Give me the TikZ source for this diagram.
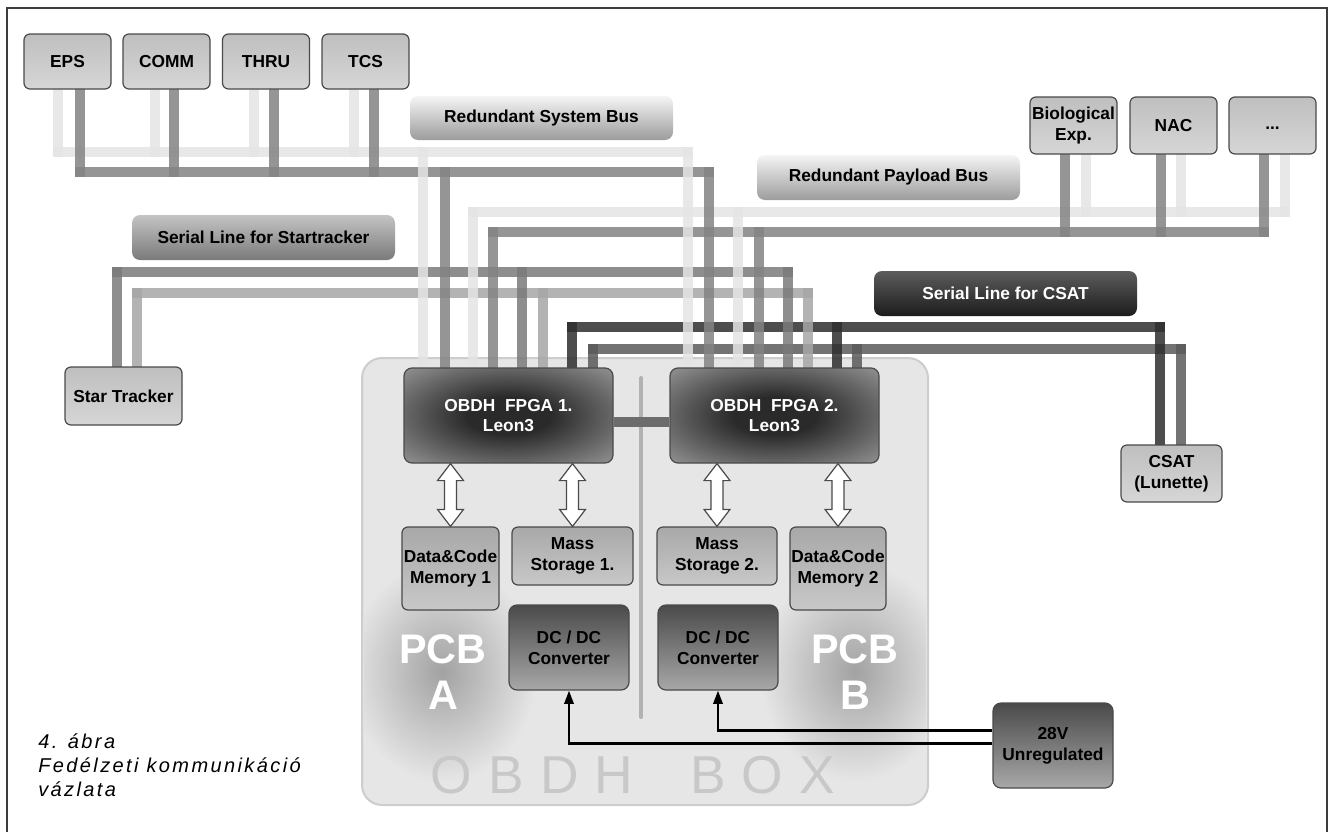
\documentclass[tikz,border=0pt]{standalone}
\usepackage{fontspec}
\setmainfont{Liberation Sans}
\newfontfamily\capfont[LetterSpace=12]{Liberation Sans}
\usetikzlibrary{calc,arrows.meta}
\definecolor{busL}{HTML}{E4E4E4}
\definecolor{busD}{HTML}{838383}
\definecolor{stD}{HTML}{7A7A7A}
\definecolor{stL}{HTML}{A6A6A6}
\definecolor{csK}{HTML}{2E2E2E}
\definecolor{csM}{HTML}{5A5A5A}
\definecolor{boxT}{HTML}{BFBFBF}
\definecolor{boxB}{HTML}{D6D6D6}
\definecolor{boxE}{HTML}{4A4A4A}
\definecolor{memT}{HTML}{A8A8A8}
\definecolor{memB}{HTML}{C8C8C8}
\definecolor{lblT}{HTML}{F5F5F5}
\definecolor{lblB}{HTML}{9C9C9C}
\definecolor{stlT}{HTML}{C4C4C4}
\definecolor{stlB}{HTML}{7A7A7A}
\definecolor{cslT}{HTML}{5C5C5C}
\definecolor{cslB}{HTML}{1C1C1C}
\definecolor{dcT}{HTML}{4A4A4A}
\definecolor{dcB}{HTML}{A8A8A8}
\definecolor{fpIn}{HTML}{2A2A2A}
\definecolor{fpOut}{HTML}{8C8C8C}
\definecolor{obF}{HTML}{E6E6E6}
\definecolor{obE}{HTML}{CDCDCD}
\definecolor{obT}{HTML}{C8C8C8}
\definecolor{glow}{HTML}{A2A2A2}
\definecolor{frm}{HTML}{3C3C3C}
\definecolor{lnk}{HTML}{6C6C6C}
\definecolor{dvd}{HTML}{B2B2B2}
\pgfdeclareradialshading{fpgashade}{\pgfpoint{0bp}{0bp}}{color(0bp)=(fpIn); color(10bp)=(fpIn); color(34bp)=(fpOut); color(50bp)=(fpOut)}
\pgfdeclarelayer{back}
\pgfdeclarelayer{mid}
\pgfsetlayers{back,mid,main}
\newcommand\hollowlink[2]{%
  \draw[hollow] (#1.south -| #2.north) -- ++(13,17) -- ++(-7,0) -- ($(#2.north)+(6,-17)$) -- ++(7,0) -- (#2.north) -- ++(-13,-17) -- ++(7,0) -- ($(#1.south -| #2.north)+(-6,17)$) -- ++(-7,0) -- cycle;}
\tikzset{
  sz/.style 2 args={minimum width=#1*0.75pt, minimum height=#2*0.75pt},
  txt/.style={font=\bfseries\fontsize{13}{15.5}\selectfont, align=center, inner sep=0pt, rounded corners=4.5pt},
  unit/.style={txt, draw=boxE, line width=0.9pt, top color=boxT, bottom color=boxB},
  membox/.style={txt, draw=boxE, line width=0.9pt, top color=memT, bottom color=memB},
  buslbl/.style={txt, top color=lblT, bottom color=lblB, rounded corners=6pt},
  stlbl/.style={txt, top color=stlT, bottom color=stlB, rounded corners=6pt},
  cslbl/.style={txt, text=white, top color=cslT, bottom color=cslB, rounded corners=6pt},
  fpga/.style={txt, text=white, draw=boxE, line width=0.9pt, shading=fpgashade, rounded corners=6pt},
  dcbox/.style={txt, draw=boxE, line width=0.9pt, top color=dcT, bottom color=dcB, rounded corners=6pt},
  busLt/.style={draw=busL, line width=7.5pt, line cap=rect, opacity=.85},
  busDk/.style={draw=busD, line width=8pt, line cap=rect, opacity=.85},
  stDk/.style={draw=stD, line width=8pt, line cap=rect, opacity=.85},
  stLt/.style={draw=stL, line width=7.5pt, line cap=rect, opacity=.85},
  csBk/.style={draw=csK, line width=8pt, line cap=rect, opacity=.85},
  csMd/.style={draw=csM, line width=8pt, line cap=rect, opacity=.85},
  hollow/.style={draw=boxE, fill=white, line width=0.9pt, line join=miter},
  pwr/.style={draw=black, line width=1.8pt, -{Triangle[length=10pt,width=7pt]}},
  fpgalink/.style={draw=lnk, line width=7.5pt},
  pcb/.style={font=\bfseries\fontsize{31}{35}\selectfont, text=white, align=center, inner sep=0pt},
}
\begin{document}
\begin{tikzpicture}[x=0.75pt, y=-0.75pt]
\useasboundingbox (0,0) rectangle (1335,832);
% frame
\draw[frm, line width=1.2pt] (7,832) -- (7,8) -- (1327,8) -- (1327,832);

% boxes
\node[unit, sz={87}{55}] (eps) at (67.5,61.5) {EPS};
\node[unit, sz={87}{55}] (comm) at (166.5,61.5) {COMM};
\node[unit, sz={87}{55}] (thru) at (266,61.5) {THRU};
\node[unit, sz={87}{55}] (tcs) at (365.5,61.5) {TCS};
\node[unit, sz={87}{57}] (bio) at (1073.5,125.5) {Biological\\Exp.};
\node[unit, sz={87}{57}] (nac) at (1173.5,125.5) {NAC};
\node[unit, sz={87}{57}] (more) at (1272.5,125.5) {\raisebox{-6pt}{...}};
\node[unit, sz={117}{58}] (star) at (123.5,396) {Star Tracker};
\node[unit, sz={101}{57}] (csat) at (1171.5,473.5) {CSAT\\(Lunette)};

\node[buslbl, sz={263}{44}] (sysl) at (541.5,118) {Redundant System Bus};
\node[buslbl, sz={263}{45}] (payl) at (888.5,177.5) {Redundant Payload Bus};
\node[stlbl, sz={263}{45}] (stl) at (263.5,237.5) {Serial Line for Startracker};
\node[cslbl, sz={263}{45}] (csl) at (1005.5,293.5) {Serial Line for CSAT};

\node[fpga, sz={209}{95}] (fpga1) at (508.5,415.5) {OBDH\ \ FPGA 1.\\Leon3};
\node[fpga, sz={209}{95}] (fpga2) at (774.5,415.5) {OBDH\ \ FPGA 2.\\Leon3};
\node[membox, sz={97}{83}] (mem1) at (450.5,568.5) {Data\&Code\\Memory 1};
\node[membox, sz={121}{58}] (ms1) at (572.5,556) {Mass\\Storage 1.};
\node[membox, sz={120}{58}] (ms2) at (717,556) {Mass\\Storage 2.};
\node[membox, sz={96}{83}] (mem2) at (838,568.5) {Data\&Code\\Memory 2};
\node[dcbox, sz={120}{85}] (dc1) at (569,647.5) {DC / DC\\Converter};
\node[dcbox, sz={120}{85}] (dc2) at (718,647.5) {DC / DC\\Converter};
\node[dcbox, sz={120}{85}] (v28) at (1053,745.5) {28V\\Unregulated};

% OBDH box on back layer
\begin{pgfonlayer}{back}
\node[draw=obE, fill=obF, line width=1.5pt, rounded corners=15pt, sz={566}{447}] (obdh) at (645,581.5) {};
\begin{scope}
\clip[rounded corners=14pt] (364,360) rectangle (926,803);
\shade[inner color=glow, outer color=obF] (442,672) ellipse (95 and 110);
\shade[inner color=glow, outer color=obF] (855,672) ellipse (95 and 110);
\end{scope}
\node[pcb] (pcba) at (443,672) {PCB\\A};
\node[pcb] (pcbb) at (855,672) {PCB\\B};
\node[font=\fontsize{40}{40}\selectfont, text=obT, inner sep=0pt] (obdhtxt) at (633,775) {O\hspace{12pt}B\hspace{12pt}D\hspace{12pt}H\hspace{43pt}B\hspace{12pt}O\hspace{12pt}X};
\draw[dvd, line width=3pt, line cap=round] (641,378) -- (641,717);
\end{pgfonlayer}

% bus coordinates
\coordinate (sL0) at (58,152);  \coordinate (sL1) at (155,152); \coordinate (sL2) at (254,152);
\coordinate (sL3) at (354,152); \coordinate (sLa) at (423,152); \coordinate (sLb) at (688,152);
\coordinate (sD0) at (80,172);  \coordinate (sD1) at (174,172); \coordinate (sD2) at (274,172);
\coordinate (sD3) at (374,172); \coordinate (sDa) at (445,172); \coordinate (sDb) at (709,172);
\coordinate (pL0) at (473,212); \coordinate (pL1) at (738,212); \coordinate (pLx) at (1086,212);
\coordinate (pLy) at (1181,212); \coordinate (pLz) at (1285,212);
\coordinate (pD0) at (493,232); \coordinate (pD1) at (759,232); \coordinate (pDx) at (1065,232);
\coordinate (pDy) at (1161,232); \coordinate (pDz) at (1264,232);
\coordinate (tD0) at (117,272); \coordinate (tD1) at (522,272); \coordinate (tD2) at (788,272);
\coordinate (tL0) at (137,293); \coordinate (tL1) at (543,293); \coordinate (tL2) at (808,293);
\coordinate (cK0) at (572,327); \coordinate (cK1) at (837,327); \coordinate (cK2) at (1160,327);
\coordinate (cM0) at (593,349); \coordinate (cM1) at (857,349); \coordinate (cM2) at (1181,349);

\begin{pgfonlayer}{mid}
% horizontals
\draw[busLt] (sL0) -- (sLb);
\draw[busDk] (sD0) -- (sDb);
\draw[busLt] (pL0) -- (pLz);
\draw[busDk] (pD0) -- (pDz);
\draw[stDk] (tD0) -- (tD2);
\draw[stLt] (tL0) -- (tL2);
\draw[csBk] (cK0) -- (cK2);
\draw[csMd] (cM0) -- (cM2);
% system bus stubs
\draw[busLt] (sL0 |- eps.south) -- (sL0);
\draw[busLt] (sL1 |- comm.south) -- (sL1);
\draw[busLt] (sL2 |- thru.south) -- (sL2);
\draw[busLt] (sL3 |- tcs.south) -- (sL3);
\draw[busDk] (sD0 |- eps.south) -- (sD0);
\draw[busDk] (sD1 |- comm.south) -- (sD1);
\draw[busDk] (sD2 |- thru.south) -- (sD2);
\draw[busDk] (sD3 |- tcs.south) -- (sD3);
% payload stubs
\draw[busLt] (pLx |- bio.south) -- (pLx);
\draw[busLt] (pLy |- nac.south) -- (pLy);
\draw[busLt] (pLz |- more.south) -- (pLz);
\draw[busDk] (pDx |- bio.south) -- (pDx);
\draw[busDk] (pDy |- nac.south) -- (pDy);
\draw[busDk] (pDz |- more.south) -- (pDz);
% drops to FPGAs
\draw[busLt] (sLa) -- (sLa |- fpga1.north);
\draw[busDk] (sDa) -- (sDa |- fpga1.north);
\draw[busLt] (pL0) -- (pL0 |- fpga1.north);
\draw[busDk] (pD0) -- (pD0 |- fpga1.north);
\draw[stDk] (tD1) -- (tD1 |- fpga1.north);
\draw[stLt] (tL1) -- (tL1 |- fpga1.north);
\draw[csBk] (cK0) -- (cK0 |- fpga1.north);
\draw[csMd] (cM0) -- (cM0 |- fpga1.north);
\draw[busLt] (sLb) -- (sLb |- fpga2.north);
\draw[busDk] (sDb) -- (sDb |- fpga2.north);
\draw[busLt] (pL1) -- (pL1 |- fpga2.north);
\draw[busDk] (pD1) -- (pD1 |- fpga2.north);
\draw[stDk] (tD2) -- (tD2 |- fpga2.north);
\draw[stLt] (tL2) -- (tL2 |- fpga2.north);
\draw[csBk] (cK1) -- (cK1 |- fpga2.north);
\draw[csMd] (cM1) -- (cM1 |- fpga2.north);
% star tracker and CSAT
\draw[stDk] (tD0) -- (tD0 |- star.north);
\draw[stLt] (tL0) -- (tL0 |- star.north);
\draw[csBk] (cK2) -- (cK2 |- csat.north);
\draw[csMd] (cM2) -- (cM2 |- csat.north);
\end{pgfonlayer}

% FPGA link
\draw[fpgalink] ($(fpga1.east)+(0,6)$) -- ($(fpga2.west)+(0,6)$);
% memory links
\hollowlink{fpga1}{mem1}
\hollowlink{fpga1}{ms1}
\hollowlink{fpga2}{ms2}
\hollowlink{fpga2}{mem2}
% power
\draw[pwr] ($(v28.west)+(0,-15)$) -| (dc2.south);
\draw[pwr] ($(v28.west)+(0,-2)$) -| (dc1.south);

% caption
\node[anchor=north west, inner sep=0pt, align=left, font=\capfont\itshape\fontsize{15}{18}\selectfont] (cap) at (38,733) {4. ábra\\Fedélzeti kommunikáció\\vázlata};
\end{tikzpicture}
\end{document}
